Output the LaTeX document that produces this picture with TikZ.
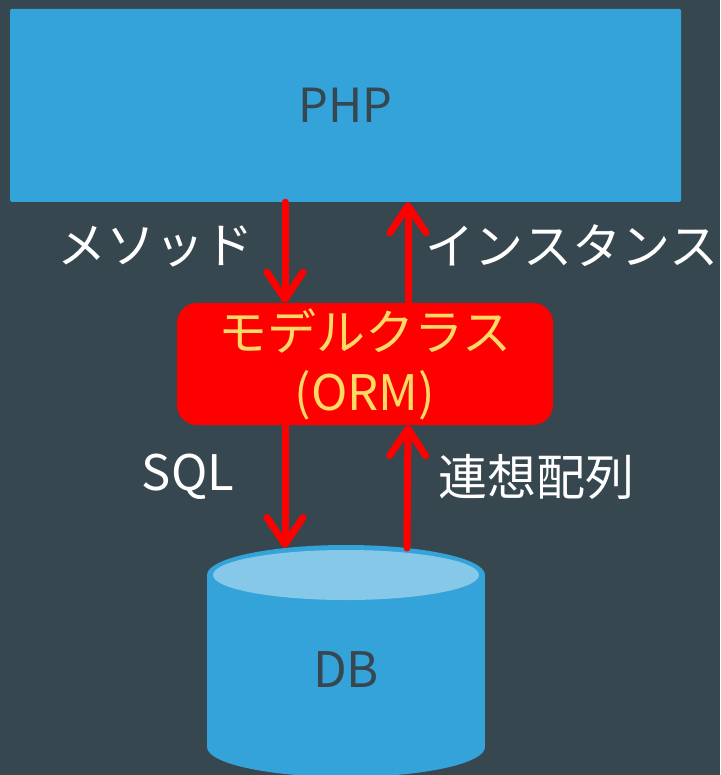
\documentclass[tikz,border=0pt]{standalone}
\usepackage{fontspec}
\setmainfont{Noto Sans CJK JP}
\usetikzlibrary{arrows.meta}
\definecolor{bgslate}{RGB}{55,71,79}
\definecolor{boxblue}{RGB}{51,163,218}
\definecolor{lidblue}{RGB}{133,200,232}
\definecolor{ormred}{RGB}{255,0,0}
\definecolor{ormtext}{RGB}{255,217,102}
\tikzset{
  bigtext/.style={font=\fontsize{49}{60}\selectfont},
  phpbox/.style={fill=boxblue, rounded corners=1.5pt, minimum width=671pt, minimum height=193pt,
    text=bgslate, font=\fontsize{47}{56}\selectfont, inner sep=0pt},
  ormbox/.style={fill=ormred, rounded corners=20pt, minimum width=376pt, minimum height=122pt,
    text=ormtext, bigtext, align=center, inner sep=0pt},
  dblabel/.style={text=bgslate, bigtext, inner sep=0pt},
  flowlabel/.style={text=white, bigtext, inner sep=0pt},
  flow/.style={draw=ormred, line width=7pt, line cap=round,
    -{Straight Barb[length=27pt,width=36pt,round]}},
}
\begin{document}
\begin{tikzpicture}[x=1pt,y=-1pt]
  % canvas
  \fill[bgslate] (0,0) rectangle (720,775);
  \useasboundingbox (0,0) rectangle (720,775);

  % application layer
  \node[phpbox] (php) at (345.5,105.5) {PHP};

  % model layer
  \node[ormbox] (orm) at (365,364) {モデルクラス\\(ORM)};

  % database cylinder
  \fill[boxblue] (207,575) rectangle (485,747);
  \fill[boxblue] (346,747) ellipse [x radius=139, y radius=30];
  \fill[boxblue] (346,575) ellipse [x radius=139, y radius=30];
  \fill[lidblue] (346,575) ellipse [x radius=133, y radius=25];
  \node[dblabel] (db) at (346,670) {DB};
  \coordinate (dbinL) at (285,548);
  \coordinate (dbinR) at (407,548);

  % arrow columns
  \coordinate (colL) at (285,0);
  \coordinate (colR) at (408,0);

  % request / response flows
  \draw[flow] (php.south -| colL) -- (orm.north -| colL);
  \draw[flow] (orm.north -| colR) -- (php.south -| colR);
  \draw[flow] (orm.south -| colL) -- (dbinL);
  \draw[flow] (dbinR) -- (orm.south -| colR);

  % flow labels
  \node[flowlabel] (lmethod) at (155,246) {メソッド};
  \node[flowlabel] (linstance) at (572,246) {インスタンス};
  \node[flowlabel] (lsql) at (188,477) {SQL};
  \node[flowlabel] (larray) at (536,477) {連想配列};
\end{tikzpicture}
\end{document}
